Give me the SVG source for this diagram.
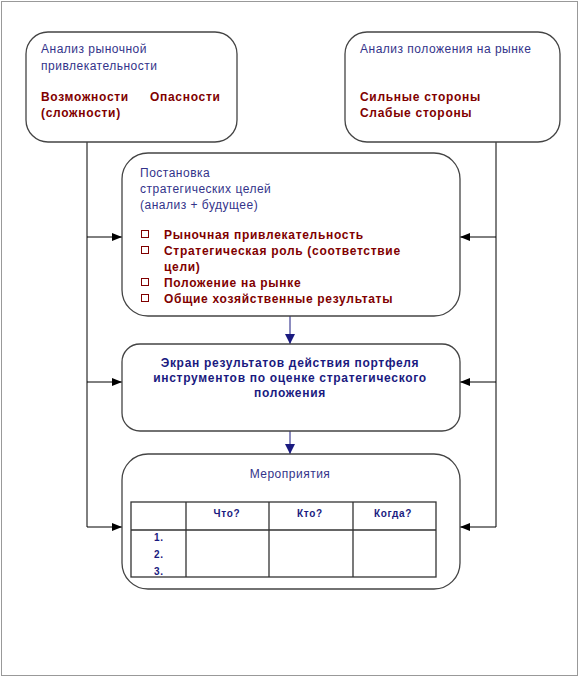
<svg xmlns="http://www.w3.org/2000/svg" width="580" height="677" viewBox="0 0 580 677">
<defs>
<style>
.box{fill:#fff;stroke:#444;stroke-width:1.3}
.t{font-family:"Liberation Sans",Arial,sans-serif;font-size:12px;fill:#33338a;letter-spacing:0.5px}
.r{font-family:"Liberation Sans",Arial,sans-serif;font-size:12px;font-weight:bold;fill:#800000;letter-spacing:0.7px}
.b{font-family:"Liberation Sans",Arial,sans-serif;font-size:12px;font-weight:bold;fill:#1a1a80;letter-spacing:0.7px}
.s{font-family:"Liberation Sans",Arial,sans-serif;font-size:10px;font-weight:bold;fill:#1a1a80;letter-spacing:0.7px}
.c{fill:none;stroke:#000;stroke-width:1}
.cb{fill:none;stroke:#1a1a80;stroke-width:1}
.bul{fill:#fff;stroke:#800000;stroke-width:1}
.tbl{fill:none;stroke:#333;stroke-width:1.3}
</style>
<marker id="ak" markerWidth="10" markerHeight="8" refX="10" refY="4" orient="auto" markerUnits="userSpaceOnUse"><path d="M0,0 L10,4 L0,8 z" fill="#000"/></marker>
<marker id="ab" markerWidth="10" markerHeight="10" refX="10" refY="5" orient="auto" markerUnits="userSpaceOnUse"><path d="M0,0 L10,5 L0,10 z" fill="#1a1a80"/></marker>
</defs>
<rect x="1.5" y="1.5" width="576" height="674" fill="#fff" stroke="#999" stroke-width="1"/>
<g id="connectors">
<path class="c" d="M87,142 V527"/>
<path class="c" d="M496,142 V527"/>
<path class="c" d="M87,237 H122" marker-end="url(#ak)"/>
<path class="c" d="M87,382 H122" marker-end="url(#ak)"/>
<path class="c" d="M87,527 H122" marker-end="url(#ak)"/>
<path class="c" d="M496,237 H460" marker-end="url(#ak)"/>
<path class="c" d="M496,382 H460" marker-end="url(#ak)"/>
<path class="c" d="M496,527 H460" marker-end="url(#ak)"/>
<path class="cb" d="M290,316 V344" marker-end="url(#ab)"/>
<path class="cb" d="M290,431 V454" marker-end="url(#ab)"/>
</g>
<g id="market-attractiveness">
<rect class="box" x="26" y="32" width="211" height="110" rx="22"/>
<text class="t" x="41" y="53">Анализ рыночной</text>
<text class="t" x="41" y="70">привлекательности</text>
<text class="r" x="41" y="101">Возможности</text>
<text class="r" x="150" y="101">Опасности</text>
<text class="r" x="41" y="117">(сложности)</text>
</g>
<g id="market-position">
<rect class="box" x="345" y="32" width="215" height="110" rx="22"/>
<text class="t" x="360" y="53">Анализ положения на рынке</text>
<text class="r" x="360" y="101">Сильные стороны</text>
<text class="r" x="360" y="117">Слабые стороны</text>
</g>
<g id="strategic-goals">
<rect class="box" x="122" y="153" width="338" height="163" rx="26"/>
<text class="t" x="140" y="177">Постановка</text>
<text class="t" x="140" y="193">стратегических целей</text>
<text class="t" x="140" y="209">(анализ + будущее)</text>
<rect class="bul" x="141.5" y="230.5" width="7" height="7"/>
<rect class="bul" x="141.5" y="246.5" width="7" height="7"/>
<rect class="bul" x="141.5" y="278.5" width="7" height="7"/>
<rect class="bul" x="141.5" y="294.5" width="7" height="7"/>
<text class="r" x="164" y="239">Рыночная привлекательность</text>
<text class="r" x="164" y="255">Стратегическая роль (соответствие</text>
<text class="r" x="164" y="271">цели)</text>
<text class="r" x="164" y="287">Положение на рынке</text>
<text class="r" x="164" y="303">Общие хозяйственные результаты</text>
</g>
<g id="portfolio-screen">
<rect class="box" x="122" y="344" width="338" height="87" rx="18"/>
<text class="b" x="290" y="367" text-anchor="middle">Экран результатов действия портфеля</text>
<text class="b" x="290" y="382" text-anchor="middle">инструментов по оценке стратегического</text>
<text class="b" x="290" y="397" text-anchor="middle">положения</text>
</g>
<g id="measures">
<rect class="box" x="122" y="454" width="338" height="135" rx="26"/>
<text class="t" x="290" y="478" text-anchor="middle">Мероприятия</text>
<rect class="tbl" x="131" y="502" width="305" height="75"/>
<path class="tbl" d="M131,530 H436 M186,502 V577 M269,502 V577 M353,502 V577"/>
<text class="s" x="227" y="517" text-anchor="middle">Что?</text>
<text class="s" x="310" y="517" text-anchor="middle">Кто?</text>
<text class="s" x="393" y="517" text-anchor="middle">Когда?</text>
<text class="s" x="154" y="541">1.</text>
<text class="s" x="154" y="558">2.</text>
<text class="s" x="154" y="575">3.</text>
</g>
</svg>
